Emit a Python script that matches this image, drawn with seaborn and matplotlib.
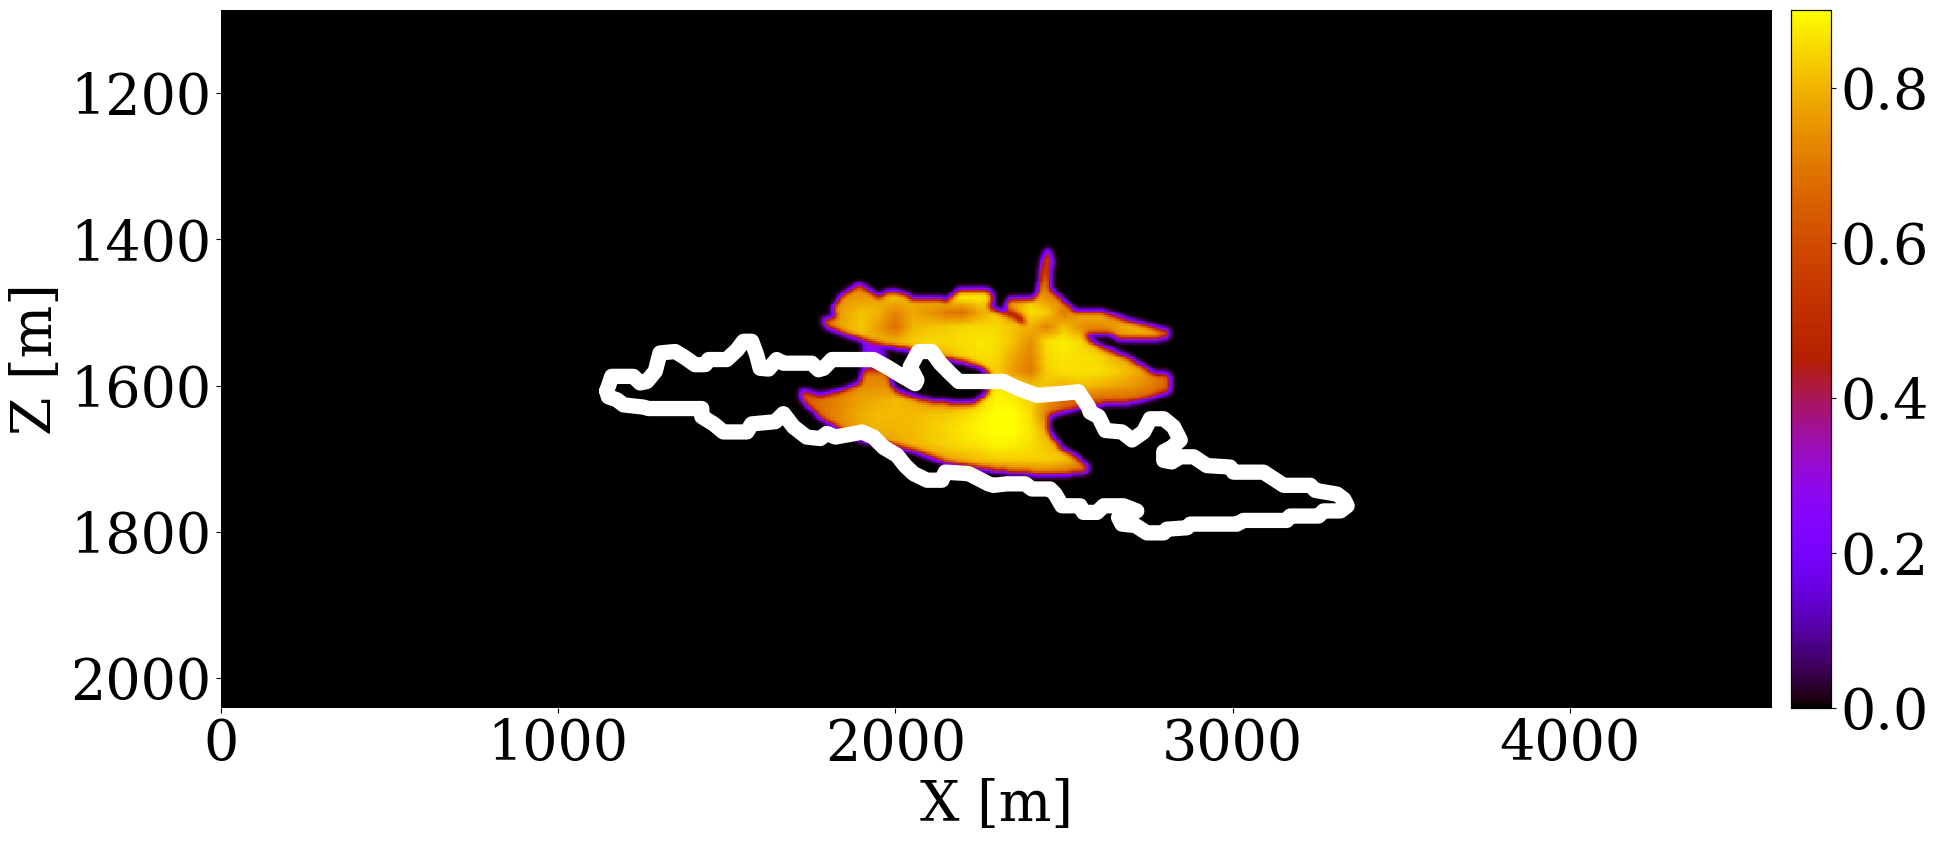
import numpy as np
import matplotlib
matplotlib.use("Agg")
import matplotlib.pyplot as plt
from matplotlib.path import Path
import seaborn as sns

plt.rcParams['font.family'] = 'DejaVu Serif'
plt.rcParams['font.size'] = 40

# white contour (X, Z in metres)
contour_x = [1144,1159,1223,1243,1263,1288,1302,1347,1372,1406,1436,1446,1500,1530,1550,1574,1589,1599,1624,1648,1668,1752,1772,1787,1812,1935,1975,2014,2059,2064,2044,2069,2108,2133,2163,2188,2321,2361,2420,2499,2543,2573,2578,2603,2623,2672,2702,2736,2756,2796,2825,2845,2820,2796,2796,2820,2845,2885,2924,2993,3003,3092,3122,3152,3231,3246,3310,3330,3340,3320,3270,3255,3171,3161,3033,3013,2875,2865,2805,2796,2746,2712,2672,2662,2716,2677,2618,2598,2558,2548,2494,2474,2459,2405,2385,2331,2291,2276,2247,2217,2148,2138,2094,2054,2029,2005,1965,1935,1901,1881,1822,1797,1777,1737,1698,1668,1644,1574,1560,1490,1461,1426,1426,1268,1253,1194,1174,1149,1144]
contour_z = [1605,1585,1585,1594,1592,1578,1553,1551,1558,1569,1569,1562,1562,1549,1537,1537,1556,1574,1575,1562,1567,1567,1576,1574,1562,1562,1572,1583,1595,1590,1572,1551,1551,1567,1581,1592,1592,1601,1611,1608,1606,1627,1634,1640,1659,1661,1672,1661,1643,1643,1654,1672,1682,1688,1700,1702,1695,1695,1707,1709,1716,1716,1725,1734,1734,1741,1746,1753,1762,1769,1769,1776,1776,1782,1782,1787,1787,1792,1794,1799,1799,1789,1787,1778,1769,1762,1762,1771,1771,1762,1762,1746,1739,1739,1732,1732,1734,1732,1725,1718,1716,1727,1727,1718,1707,1693,1682,1668,1661,1663,1668,1663,1670,1668,1654,1636,1647,1650,1661,1661,1650,1640,1629,1629,1627,1624,1617,1613,1605]

# plume outline
plume_x = [1787,1826,1812,1846,1891,1935,1950,1975,2024,2054,2128,2148,2192,2277,2291,2277,2351,2385,2375,2326,2336,2410,2425,2435,2454,2464,2459,2489,2533,2608,2702,2810,2810,2776,2662,2637,2563,2573,2608,2687,2766,2815,2815,2776,2707,2627,2553,2489,2454,2454,2489,2524,2568,2568,2479,2341,2252,2143,2064,1975,1896,1787,1718,1718,1777,1846,1896,1906,1975,1990,2005,2084,2143,2232,2272,2282,2252,2202,2143,2054,1955,1856,1792]
plume_z = [1507,1504,1491,1473,1459,1471,1478,1468,1471,1480,1478,1482,1466,1466,1478,1491,1503,1514,1505,1494,1480,1480,1466,1425,1409,1425,1466,1478,1496,1496,1510,1523,1530,1534,1534,1526,1526,1535,1544,1558,1581,1583,1606,1611,1620,1622,1627,1634,1640,1659,1682,1691,1707,1715,1720,1716,1711,1702,1688,1677,1672,1645,1615,1604,1611,1604,1594,1576,1576,1599,1606,1617,1620,1622,1608,1583,1572,1565,1560,1549,1542,1528,1516]
z_shift = 2.5  # calibration of the outlines above against the tick positions

# faint streak
streak_x = [1906,1955,1970,1965,1906]
streak_z = [1537,1542,1556,1585,1585]
streak_value = 0.26

# saturation read at control nodes
node_x = [1700,1750,1800,1850,1900,1950,2000,2050,2100,2150,2200,2250,2300,2350,2400,2450,2500,2550,2600,2650,2700,2750,2800,2850]
node_z = [1400,1420,1440,1460,1480,1500,1520,1540,1560,1580,1600,1620,1640,1660,1680,1700,1720]
z1400 = [.55]*24
z1420 = [.55]*24
z1440 = [.55]*14 + [.55,.55,.65] + [.65]*7
z1460 = [.7,.7,.7,.7,.72,.72,.75,.75,.75,.77,.8,.8,.77,.75,.72,.68,.72,.74,.74,.74,.74,.74,.74,.74]
z1480 = [.72,.72,.74,.76,.76,.78,.82,.8,.8,.84,.87,.87,.82,.78,.83,.74,.76,.78,.78,.76,.76,.74,.74,.74]
z1500 = [.72,.72,.72,.78,.82,.8,.72,.78,.75,.7,.68,.78,.83,.74,.86,.84,.7,.8,.82,.78,.74,.74,.68,.68]
z1520 = [.7,.72,.74,.79,.83,.76,.68,.8,.82,.83,.85,.85,.85,.82,.8,.72,.82,.74,.72,.76,.8,.82,.74,.7]
z1540 = [.66,.7,.74,.76,.8,.8,.8,.83,.85,.85,.86,.87,.86,.82,.74,.86,.88,.85,.78,.76,.74,.74,.74,.74]
z1560 = [.66,.66,.68,.7,.72,.72,.74,.76,.78,.8,.84,.86,.85,.78,.72,.85,.87,.86,.85,.8,.76,.74,.74,.74]
z1580 = [.66,.66,.66,.68,.7,.7,.7,.72,.74,.76,.8,.84,.84,.76,.7,.84,.86,.86,.86,.84,.8,.76,.68,.66]
z1600 = [.62,.66,.68,.72,.74,.74,.72,.72,.72,.72,.74,.78,.87,.85,.82,.82,.8,.82,.8,.78,.76,.72,.66,.66]
z1620 = [.62,.66,.7,.74,.77,.79,.81,.79,.76,.74,.76,.84,.89,.88,.84,.76,.66,.66,.66,.66,.66,.66,.66,.66]
z1640 = [.62,.66,.7,.75,.79,.81,.81,.81,.82,.83,.85,.88,.9,.9,.86,.7,.66,.66,.66,.66,.66,.66,.66,.66]
z1660 = [.64,.66,.7,.74,.78,.8,.8,.81,.83,.85,.87,.89,.9,.9,.87,.78,.72,.7,.68,.66,.66,.66,.66,.66]
z1680 = [.64,.66,.7,.72,.74,.75,.78,.8,.82,.84,.86,.87,.89,.88,.86,.82,.78,.72,.68,.66,.66,.66,.66,.66]
z1700 = [.64,.64,.66,.68,.7,.7,.7,.7,.74,.78,.8,.82,.84,.84,.84,.84,.82,.76,.68,.66,.66,.66,.66,.66]
z1720 = [.62,.62,.62,.62,.62,.62,.64,.64,.66,.68,.68,.7,.7,.7,.72,.72,.7,.68,.64,.62,.62,.62,.62,.62]
node_values = np.array([z1400,z1420,z1440,z1460,z1480,z1500,z1520,z1540,z1560,z1580,z1600,z1620,z1640,z1660,z1680,z1700,z1720])

x_ticks = [0,1000,2000,3000,4000]
z_ticks = [1200,1400,1600,1800,2000]
cbar_ticks = [0.0,0.2,0.4,0.6,0.8]
x_max, z_min, z_max = 4600, 1086.5, 2041
dx, dz = 5.0, 2.5

xc = np.arange(0, x_max, dx) + dx/2
zc = np.arange(z_min, z_max, dz) + dz/2
XX, ZZ = np.meshgrid(xc, zc)
pts = np.c_[XX.ravel(), ZZ.ravel()]

def soft_mask(xs, zs, sx, sz):
    m = Path(np.c_[xs, np.array(zs)+z_shift]).contains_points(pts).reshape(XX.shape).astype(float)
    for axis, s in ((1, sx), (0, sz)):
        r = np.arange(-int(4*s), int(4*s)+1)
        k = np.exp(-r**2/(2*s*s)); k /= k.sum()
        m = np.apply_along_axis(lambda a: np.convolve(a, k, mode='same'), axis, m)
    return m

tmp = np.array([np.interp(xc, node_x, row) for row in node_values])
V = np.array([np.interp(zc, node_z, col) for col in tmp.T]).T

main = soft_mask(plume_x, plume_z, 1.5, 1.5)
streak = soft_mask(streak_x, streak_z, 1.5, 1.5)
field = main*V + (1-main)*streak*streak_value

fig = plt.figure(figsize=(19.39, 8.42), dpi=100)
W, H = 1939, 842
ax = fig.add_axes([221/W, 1-708/H, 1551/W, 698/H])
cax = fig.add_axes([1791/W, 1-708/H, 40/W, 698/H])

sns.heatmap(field, cmap='gnuplot', vmin=0, vmax=0.9, ax=ax, cbar_ax=cax,
            xticklabels=False, yticklabels=False, rasterized=True)

ax.plot(np.array(contour_x)/dx, (np.array(contour_z)+z_shift-z_min)/dz, color='white',
        lw=11, solid_joinstyle='round', solid_capstyle='round')
ax.set_xlim(0, x_max/dx)
ax.set_ylim((z_max-z_min)/dz, 0)
ax.set_xticks(np.array(x_ticks)/dx)
ax.set_xticklabels([str(t) for t in x_ticks])
ax.set_yticks((np.array(z_ticks)-z_min)/dz)
ax.set_yticklabels([str(t) for t in z_ticks], rotation=0)
ax.tick_params(axis='both', which='major', length=3.5, width=0.8, bottom=True, left=True)
ax.set_xlabel('X [m]', labelpad=4.5)
ax.set_ylabel('Z [m]', labelpad=4.5)

cax.set_yticks(cbar_ticks)
cax.set_yticklabels([f'{t:.1f}' for t in cbar_ticks])
cax.tick_params(length=3.5, width=0.8, labelsize=40, right=True)
for s in cax.spines.values():
    s.set_visible(True); s.set_linewidth(0.8); s.set_color('black')

fig.savefig('out.png', dpi=100)
